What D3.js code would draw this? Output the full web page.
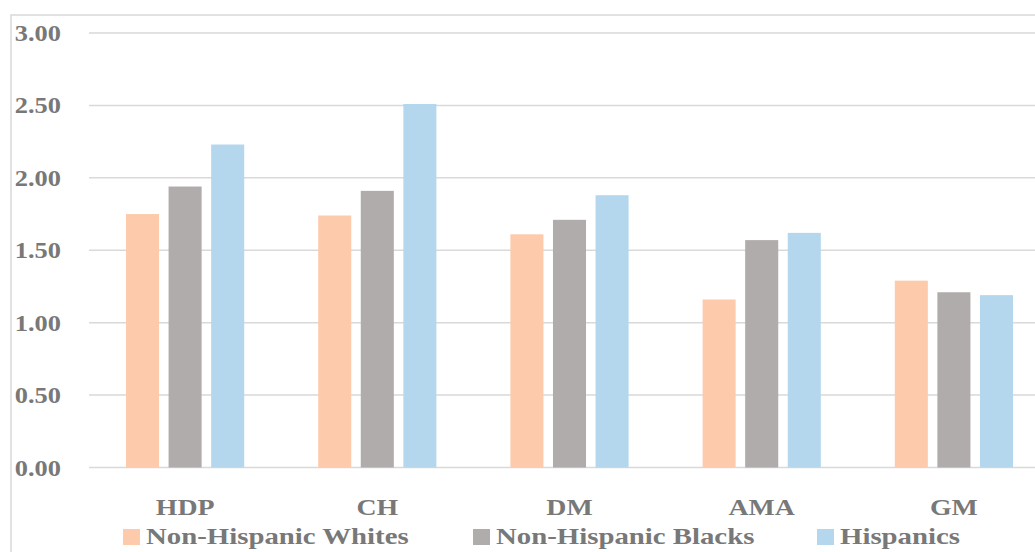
<!DOCTYPE html>
<html>
<head>
<meta charset="utf-8">
<script src="https://cdn.jsdelivr.net/npm/d3@7"></script>
<style>
  body { margin: 0; background: #fff; }
  svg { display: block; }
  text { font-family: "Liberation Serif", "Times New Roman", serif; font-weight: bold; fill: #787878; }
</style>
</head>
<body>
<script>
const categories = ['HDP', 'CH', 'DM', 'AMA', 'GM']
const series = ['Non-Hispanic Whites', 'Non-Hispanic Blacks', 'Hispanics']
const whites = [1.75, 1.74, 1.61, 1.16, 1.29]
const blacks = [1.94, 1.91, 1.71, 1.57, 1.21]
const hispanics = [2.23, 2.51, 1.88, 1.62, 1.19]
const yTicks = [0, 0.5, 1, 1.5, 2, 2.5, 3]
const colors = ['#fecaac', '#b0acab', '#b4d7ee']

const w = 1035
const h = 552

const values = [whites, blacks, hispanics]
const rows = categories.map((c, i) => ({
    cat: c,
    vals: series.map((s, j) => ({ series: s, value: values[j][i], color: colors[j] }))
}))

const svg = d3.select('body')
    .append('svg')
    .attr('width', w)
    .attr('height', h)

// chart border, runs off the right and bottom like the cropped original
svg.append('rect')
    .attr('x', 11)
    .attr('y', 15)
    .attr('width', 1100)
    .attr('height', 600)
    .attr('fill', 'none')
    .attr('stroke', '#d9d9d9')
    .attr('stroke-width', 1.5)

const x0 = d3.scaleBand()
    .domain(categories)
    .range([89, 1050])
    .paddingInner(0.385)
    .paddingOuter(0.1925)

const x1 = d3.scaleBand()
    .domain(series)
    .range([0, x0.bandwidth()])
    .paddingInner(0.224)
    .paddingOuter(0)

const y = d3.scaleLinear()
    .domain([0, 3])
    .range([467.5, 33])

// gridlines
svg.append('g')
    .selectAll('line')
    .data(yTicks)
    .enter()
    .append('line')
    .attr('x1', 89)
    .attr('x2', w)
    .attr('y1', d => y(d))
    .attr('y2', d => y(d))
    .attr('stroke', '#d9d9d9')
    .attr('stroke-width', 1.5)

// the original font is wider than Liberation Serif, so stretch a bit
const label = (sel, sx) => sel
    .append('text')
    .attr('transform', `scale(${sx},1)`)

// y labels
svg.append('g')
    .selectAll('g')
    .data(yTicks)
    .enter()
    .append('g')
    .attr('transform', d => `translate(61, ${y(d) + 8})`)
    .call(g => label(g, 1.1)
        .attr('text-anchor', 'end')
        .attr('font-size', 24)
        .text(d => d3.format('.2f')(d)))

// bars
svg.append('g')
    .selectAll('g')
    .data(rows)
    .enter()
    .append('g')
    .attr('transform', d => `translate(${x0(d.cat)}, 0)`)
    .selectAll('rect')
    .data(d => d.vals)
    .enter()
    .append('rect')
    .attr('x', d => x1(d.series))
    .attr('y', d => y(d.value))
    .attr('width', x1.bandwidth())
    .attr('height', d => y(0) - y(d.value))
    .attr('fill', d => d.color)

// category labels
svg.append('g')
    .selectAll('g')
    .data(categories)
    .enter()
    .append('g')
    .attr('transform', d => `translate(${x0(d) + x0.bandwidth() / 2}, 515)`)
    .call(g => label(g, 1.16)
        .attr('text-anchor', 'middle')
        .attr('font-size', 24)
        .text(d => d))

// legend
const legendX = [123, 473, 817]
const legend = svg.append('g')
    .selectAll('g')
    .data(series)
    .enter()
    .append('g')
    .attr('transform', (d, i) => `translate(${legendX[i]}, 529)`)

legend.append('rect')
    .attr('width', 17)
    .attr('height', 16)
    .attr('fill', (d, i) => colors[i])

legend.append('g')
    .attr('transform', 'translate(23, 15)')
    .call(g => label(g, 1.2)
        .attr('font-size', 24)
        .text(d => d))
</script>
</body>
</html>
